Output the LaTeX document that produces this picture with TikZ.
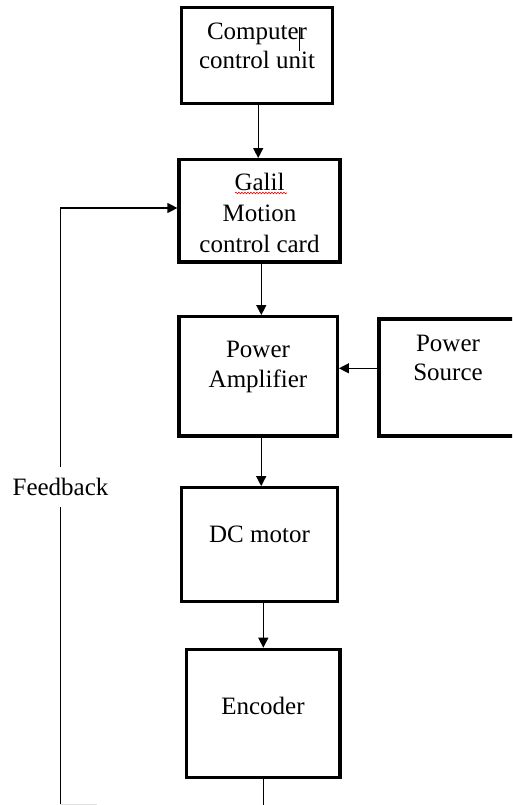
\documentclass[tikz,border=0pt]{standalone}
\usepackage{fontspec}
\setmainfont{Liberation Serif}
\usetikzlibrary{arrows.meta,decorations.pathmorphing}
\begin{document}
\begin{tikzpicture}[x=1pt,y=-1pt,
  box/.style={draw,line width=3.2pt,inner sep=0pt,rectangle},
  txt/.style={font=\fontsize{25}{30}\selectfont,inner sep=0pt,align=center,anchor=center},
  arr/.style={line width=1.3pt,-{Triangle[length=10pt,width=10pt]}},
  ln/.style={line width=1.3pt}]
\clip (0,0) rectangle (512,805);
\fill[white] (0,0) rectangle (512,805);
% boxes
\node[box,minimum width=151pt,minimum height=96pt] (comp) at (257.2,55.3) {};
\node[box,minimum width=161pt,minimum height=102.3pt] (galil) at (259.5,210.8) {};
\node[box,minimum width=158.3pt,minimum height=119.3pt] (pa) at (258.2,376.3) {};
\node[box,minimum width=151pt,minimum height=117pt] (ps) at (454.5,377.5) {};
\node[box,minimum width=155.6pt,minimum height=114pt] (dc) at (259.5,544.7) {};
\node[box,minimum width=153.3pt,minimum height=128pt] (enc) at (263.3,713.3) {};
% texts
\node[txt,font=\fontsize{25}{28.5}\selectfont] (tcomp) at (257,46) {Computer\\control unit};
\node[txt,font=\fontsize{25}{31}\selectfont] (tgalil) at (259.5,213) {Galil\\Motion\\control card};
\node[txt] (tpa) at (258,367) {Power\\Amplifier};
\node[txt,font=\fontsize{25}{29}\selectfont] (tps) at (448,358) {Power\\Source};
\node[txt] (tdc) at (259.5,534) {DC motor};
\node[txt] (tenc) at (263,706) {Encoder};
\node[txt,minimum height=40pt] (tfb) at (60.5,487) {Feedback};
% artifacts shown in the picture
\draw[red,line width=0.6pt,decorate,decoration={snake,amplitude=0.8pt,segment length=3pt}] (235,193) -- (287,193);
\draw[line width=0.7pt] (299.3,27) -- (299.3,51.5);
% connectors
\draw[arr] ([xshift=1pt]comp.south) -- ([xshift=1pt]comp.south |- galil.north);
\draw[arr] ([xshift=1.8pt]galil.south) -- ([xshift=1.8pt]galil.south |- pa.north);
\draw[arr] ([xshift=3pt]pa.south) -- ([xshift=3pt]pa.south |- dc.north);
\draw[arr] ([xshift=3.8pt]dc.south) -- ([xshift=3.8pt]dc.south |- enc.north);
\draw[arr] (ps.west |- 0,368.3) -- (pa.east |- 0,368.3);
\draw[ln] (enc.south) -- ++(0,40);
\draw[ln] (tfb.south) -- (tfb.south |- 0,815);
\draw[arr] (tfb.north) -- (tfb.north |- 0,208) -- (galil.west |- 0,208);
\draw[black!12,line width=1pt] (60,804) -- (97,804);
\end{tikzpicture}
\end{document}
